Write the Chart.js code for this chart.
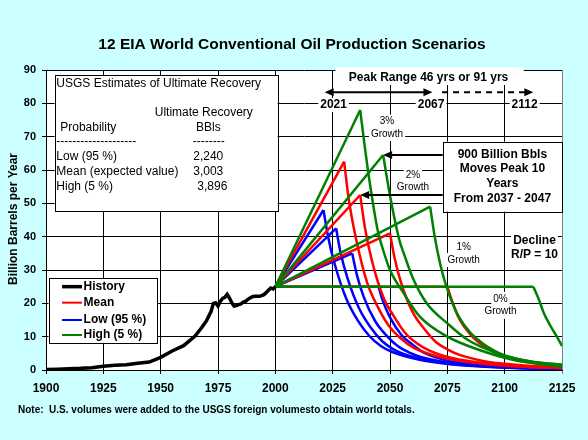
<!DOCTYPE html>
<html>
<head>
<meta charset="utf-8">
<title>12 EIA World Conventional Oil Production Scenarios</title>
<script src="https://cdn.jsdelivr.net/npm/chart.js@4.4.1/dist/chart.umd.min.js"></script>
<style>
  html, body { margin: 0; padding: 0; background: #ccffff; }
  #wrap { width: 588px; height: 440px; }
</style>
</head>
<body>
<div id="wrap"><canvas id="oilChart" width="588" height="440"></canvas></div>
<script>
const FAMILY = "Arial, 'Liberation Sans', sans-serif";

// axis ticks
const xTicks = [1900, 1925, 1950, 1975, 2000, 2025, 2050, 2075, 2100, 2125];
const yTicks = [0, 10, 20, 30, 40, 50, 60, 70, 80, 90];

// history, billion barrels per year
const historyYears = [1900, 1905, 1910, 1915, 1920, 1925, 1930, 1935, 1940, 1945, 1950, 1955, 1960, 1965, 1968,
  1970, 1972, 1973, 1974, 1975, 1976, 1977, 1978, 1979, 1980, 1981, 1982, 1983, 1984, 1985, 1986, 1987, 1988,
  1989, 1990, 1991, 1992, 1993, 1994, 1995, 1996, 1997, 1998, 1999, 2000];
const historyValues = [0.15, 0.25, 0.4, 0.5, 0.7, 1.1, 1.4, 1.6, 2.0, 2.4, 3.8, 5.7, 7.3, 10.2, 12.8,
  14.8, 17.6, 20.0, 20.2, 19.2, 20.6, 21.5, 21.8, 22.7, 21.6, 20.2, 19.2, 19.3, 19.6, 19.8, 20.4, 20.6, 21.2,
  21.6, 22.0, 22.1, 22.1, 22.1, 22.3, 22.6, 23.2, 23.9, 24.6, 24.3, 25.0];

// all scenarios leave history here
const scenarioStart = [2000, 25];

// post-peak decline (R/P = 10), [year, value]; first pair is the peak
const low3 = [[2021, 48], [2023, 40], [2026, 31.5], [2031, 21.3], [2036, 14.8], [2041, 10.2], [2046, 7.2],
  [2051, 5.4], [2061, 3.4], [2071, 2.2], [2081, 1.4], [2101, 0.7], [2125, 0.3]];
const low2 = [[2026.5, 42.5], [2028.5, 35], [2031.5, 27.5], [2036.5, 18.5], [2041.5, 12.8], [2046.5, 8.7],
  [2051.5, 6.2], [2056.5, 4.7], [2066.5, 2.9], [2076.5, 1.9], [2086.5, 1.3], [2106.5, 0.6], [2125, 0.3]];
const low1 = [[2033.5, 35], [2035.5, 28.7], [2038.5, 22], [2043.5, 14.7], [2048.5, 10.3], [2053.5, 7.1],
  [2058.5, 5.2], [2063.5, 3.9], [2073.5, 2.4], [2083.5, 1.6], [2093.5, 1.05], [2113.5, 0.5], [2125, 0.35]];
const low0 = [[2045, 25], [2047, 20.5], [2050, 15.8], [2055, 10.5], [2060, 7.5], [2065, 5.1], [2070, 3.8],
  [2075, 2.8], [2085, 1.7], [2095, 1.1], [2105, 0.75], [2125, 0.35]];

const mean3 = [[2030, 62.5], [2032, 51.3], [2035, 40], [2040, 26.3], [2045, 18.5], [2050, 12.8], [2055, 9.3],
  [2060, 6.8], [2070, 4.2], [2080, 2.8], [2090, 1.9], [2110, 0.9], [2125, 0.55]];
const mean2 = [[2037, 52.5], [2039, 43], [2042, 33.1], [2047, 22], [2052, 15.8], [2057, 10.8], [2062, 7.9],
  [2067, 5.9], [2077, 3.6], [2087, 2.4], [2097, 1.6], [2117, 0.75], [2125, 0.6]];
const mean1 = [[2050, 41], [2052, 33.6], [2055, 25.8], [2060, 17.2], [2065, 12.3], [2070, 8.4], [2075, 6.2],
  [2080, 4.6], [2090, 2.8], [2100, 1.85], [2110, 1.25], [2125, 0.8]];
const mean0 = [[2075, 25], [2077, 20.8], [2080, 15.6], [2085, 10.7], [2090, 7.6], [2095, 5.4], [2100, 4],
  [2105, 3], [2115, 1.9], [2125, 1.2]];

const high3 = [[2037, 78], [2039, 67], [2041, 57], [2044.6, 42], [2047, 36], [2050, 30], [2056, 23], [2063, 16],
  [2075, 10], [2089, 6], [2104, 3], [2125, 1]];
const high2 = [[2047, 64.5], [2050.3, 51.2], [2054, 39.2], [2056, 35], [2060, 27.5], [2066, 20], [2075, 14],
  [2084, 9], [2097, 5], [2110, 2.7], [2125, 1.5]];
const high1 = [[2067.5, 49], [2069.5, 40], [2072, 31.5], [2074.5, 25.2], [2077, 20.5], [2080, 16], [2085, 11.2],
  [2090, 8.2], [2095, 6], [2100, 4.4], [2108, 3], [2115, 2.2], [2125, 1.6]];
const high0 = [[2112.5, 25], [2115, 21], [2117, 17.2], [2120, 13.2], [2123, 9.7], [2125, 7.2]];

const legendLabels = ['History', 'Mean', 'Low (95 %)', 'High (5 %)'];
const usgsCases = ['Low (95 %)', 'Mean (expected value)', 'High (5 %)'];
const usgsRecovery = ['2,240', '3,003', '3,896'];

// styles
const colors = { history: '#000000', mean: '#ff0000', low: '#0000ff', high: '#008000' };
const legendColors = [colors.history, colors.mean, colors.low, colors.high];

const pt = p => ({ x: p[0], y: p[1] });

function scenarioSets(curve, color) {
  // straight growth line to the peak, then the decline
  return [
    { data: [pt(scenarioStart), pt(curve[0])], borderColor: color, borderWidth: 2.5, tension: 0 },
    { data: curve.map(pt), borderColor: color, borderWidth: 2.5, cubicInterpolationMode: 'monotone' }
  ];
}

// first dataset is drawn on top: history, then high, mean, low
const datasets = [
  { data: historyYears.map((y, i) => ({ x: y, y: historyValues[i] })), borderColor: colors.history,
    borderWidth: 3.5, tension: 0 },
  ...scenarioSets(high0, colors.high), ...scenarioSets(high1, colors.high),
  ...scenarioSets(high2, colors.high), ...scenarioSets(high3, colors.high),
  ...scenarioSets(mean0, colors.mean), ...scenarioSets(mean1, colors.mean),
  ...scenarioSets(mean2, colors.mean), ...scenarioSets(mean3, colors.mean),
  ...scenarioSets(low0, colors.low), ...scenarioSets(low1, colors.low),
  ...scenarioSets(low2, colors.low), ...scenarioSets(low3, colors.low)
];

function text(ctx, str, x, y, font, align = 'center', bg = false) {
  ctx.font = font;
  ctx.textAlign = align;
  ctx.textBaseline = 'middle';
  if (bg) {
    const w = ctx.measureText(str).width;
    const left = align === 'center' ? x - w / 2 : align === 'left' ? x : x - w;
    ctx.fillStyle = '#ffffff';
    ctx.fillRect(left - 2, y - 7, w + 4, 14);
  }
  ctx.fillStyle = '#000000';
  ctx.fillText(str, x, y);
}

function arrowHead(ctx, x, y, dir, len = 9, half = 4) {
  ctx.beginPath();
  ctx.moveTo(x, y);
  ctx.lineTo(x - dir * len, y - half);
  ctx.lineTo(x - dir * len, y + half);
  ctx.closePath();
  ctx.fill();
}

function box(ctx, x1, y1, x2, y2) {
  ctx.fillStyle = '#ffffff';
  ctx.fillRect(x1, y1, x2 - x1, y2 - y1);
  ctx.strokeStyle = '#000000';
  ctx.lineWidth = 1;
  ctx.strokeRect(Math.round(x1) + 0.5, Math.round(y1) + 0.5, Math.round(x2 - x1), Math.round(y2 - y1));
}

const notesPlugin = {
  id: 'oilNotes',
  beforeDraw(chart) {
    const { ctx, chartArea: a } = chart;
    ctx.save();
    ctx.fillStyle = '#ccffff';
    ctx.fillRect(0, 0, chart.width, chart.height);
    ctx.fillStyle = '#ffffff';
    ctx.fillRect(a.left, a.top, a.right - a.left, a.bottom - a.top);
    ctx.restore();
  },
  afterDraw(chart) {
    const ctx = chart.ctx;
    const X = v => chart.scales.x.getPixelForValue(v);
    const Y = v => chart.scales.y.getPixelForValue(v);
    const b12 = `bold 12px ${FAMILY}`;
    const n12 = `12px ${FAMILY}`;
    const n10 = `10px ${FAMILY}`;
    ctx.save();

    // title, axis title, note
    text(ctx, '12 EIA World Conventional Oil Production Scenarios', 292, 45, `bold 15.5px ${FAMILY}`);
    ctx.save();
    ctx.translate(14, 219);
    ctx.rotate(-Math.PI / 2);
    text(ctx, 'Billion Barrels per Year', 0, 0, b12);
    ctx.restore();
    ctx.font = `bold 10px ${FAMILY}`;
    ctx.textAlign = 'left';
    ctx.fillText('Note:  U.S. volumes were added to the USGS foreign volumesto obtain world totals.', 18, 410, 444);

    // USGS table
    box(ctx, X(1903.75), Y(88.5), X(2001), Y(47.7));
    text(ctx, 'USGS Estimates of Ultimate Recovery', X(1904.5), Y(85.8), n12, 'left');
    text(ctx, 'Ultimate Recovery', X(1968.8), Y(77.2), n12);
    text(ctx, 'Probability', X(1906.2), Y(72.6), n12, 'left');
    text(ctx, 'BBls', X(1970.8), Y(72.6), n12);
    text(ctx, '--------------------', X(1904.5), Y(68.5), n12, 'left');
    text(ctx, '--------', X(1964), Y(68.5), n12, 'left');
    const rowVals = [63.9, 59.5, 55];
    usgsCases.forEach((c, i) => {
      text(ctx, c, X(1904.5), Y(rowVals[i]), n12, 'left');
      text(ctx, usgsRecovery[i], X(i === 2 ? 1966 : 1964.2), Y(rowVals[i]), n12, 'left');
    });

    // legend
    box(ctx, X(1901.1), Y(27.5), X(1948.4), Y(8));
    const legRows = [25, 20.2, 15, 10.5];
    legendLabels.forEach((l, i) => {
      ctx.strokeStyle = legendColors[i];
      ctx.lineWidth = i === 0 ? 3.5 : 2;
      ctx.beginPath();
      ctx.moveTo(X(1907), Y(legRows[i]));
      ctx.lineTo(X(1915.7), Y(legRows[i]));
      ctx.stroke();
      text(ctx, l, X(1916.4), Y(legRows[i]), b12, 'left');
    });

    // peak range
    ctx.fillStyle = '#ffffff';
    ctx.fillRect(X(2026.2), Y(90.8), X(2108.3) - X(2026.2), Y(85.5) - Y(90.8));
    text(ctx, 'Peak Range 46 yrs or 91 yrs', X(2066.8), Y(87.6), b12);
    const ay = Y(83.3);
    ctx.strokeStyle = '#000000';
    ctx.fillStyle = '#000000';
    ctx.lineWidth = 2;
    ctx.beginPath();
    ctx.moveTo(X(2021.5) + 6, ay);
    ctx.lineTo(X(2068.5) - 6, ay);
    ctx.stroke();
    arrowHead(ctx, X(2021.5), ay, -1);
    arrowHead(ctx, X(2068.5), ay, 1);
    ctx.setLineDash([6, 5]);
    ctx.beginPath();
    ctx.moveTo(X(2072.7), ay);
    ctx.lineTo(X(2112.5) - 6, ay);
    ctx.stroke();
    ctx.setLineDash([]);
    arrowHead(ctx, X(2112.5), ay, 1);
    text(ctx, '2021', X(2025.4), Y(79.5), b12, 'center', true);
    text(ctx, '2067', X(2067.9), Y(79.5), b12, 'center', true);
    text(ctx, '2112', X(2108.7), Y(79.5), b12, 'center', true);

    // growth labels
    text(ctx, '3%', X(2048.7), Y(74.5), n10, 'center', true);
    text(ctx, 'Growth', X(2048.7), Y(70.8), n10, 'center', true);
    text(ctx, '2%', X(2060), Y(58.5), n10, 'center', true);
    text(ctx, 'Growth', X(2060), Y(54.8), n10, 'center', true);
    text(ctx, '1%', X(2082.1), Y(36.7), n10, 'center', true);
    text(ctx, 'Growth', X(2082.1), Y(33), n10, 'center', true);
    text(ctx, '0%', X(2098.2), Y(21.3), n10, 'center', true);
    text(ctx, 'Growth', X(2098.2), Y(17.5), n10, 'center', true);

    // 900 billion box with arrows to the 2% peaks
    const bx = X(2073);
    box(ctx, bx, Y(68.5), X(2125), Y(47.5));
    text(ctx, '900 Billion Bbls', X(2099), Y(64.7), b12);
    text(ctx, 'Moves Peak 10', X(2099), Y(60.5), b12);
    text(ctx, 'Years', X(2099), Y(56), b12);
    text(ctx, 'From 2037 - 2047', X(2099), Y(51.5), b12);
    [high2[0], mean2[0]].forEach(p => {
      const tx = X(p[0]), ty = Y(p[1]);
      ctx.strokeStyle = '#000000';
      ctx.fillStyle = '#000000';
      ctx.lineWidth = 2;
      ctx.beginPath();
      ctx.moveTo(bx, ty);
      ctx.lineTo(tx + 6, ty);
      ctx.stroke();
      arrowHead(ctx, tx, ty, -1);
    });

    text(ctx, 'Decline', X(2113), Y(38.7), b12, 'center', true);
    text(ctx, 'R/P = 10', X(2113), Y(34.5), b12, 'center', true);
    ctx.restore();
  }
};

const tickFont = size => ({ family: FAMILY, size: size, weight: 'bold' });

new Chart(document.getElementById('oilChart'), {
  type: 'line',
  data: { datasets: datasets },
  options: {
    responsive: false,
    animation: false,
    layout: { padding: { left: 0, top: 70, right: 26, bottom: 40 } },
    elements: { point: { radius: 0 }, line: { fill: false } },
    plugins: { legend: { display: false }, tooltip: { enabled: false }, title: { display: false } },
    scales: {
      x: {
        type: 'linear', min: 1900, max: 2125,
        afterBuildTicks: s => { s.ticks = xTicks.map(v => ({ value: v })); },
        afterFit: s => { s.height = 30; },
        grid: { color: c => (c.tick && c.tick.value === 2125 ? '#808080' : '#000000'), lineWidth: 1, tickLength: 4 },
        border: { color: '#000000', width: 1 },
        ticks: { color: '#000000', font: tickFont(12), padding: 7, maxRotation: 0, autoSkip: false,
          callback: v => String(v) }
      },
      y: {
        type: 'linear', min: 0, max: 90,
        afterBuildTicks: s => { s.ticks = yTicks.map(v => ({ value: v })); },
        afterFit: s => { s.width = 46; },
        grid: { color: '#000000', lineWidth: 1, tickLength: 4 },
        border: { color: '#000000', width: 1 },
        ticks: { color: '#000000', font: tickFont(11), padding: 6, callback: v => String(v) }
      }
    }
  },
  plugins: [notesPlugin]
});
</script>
</body>
</html>
